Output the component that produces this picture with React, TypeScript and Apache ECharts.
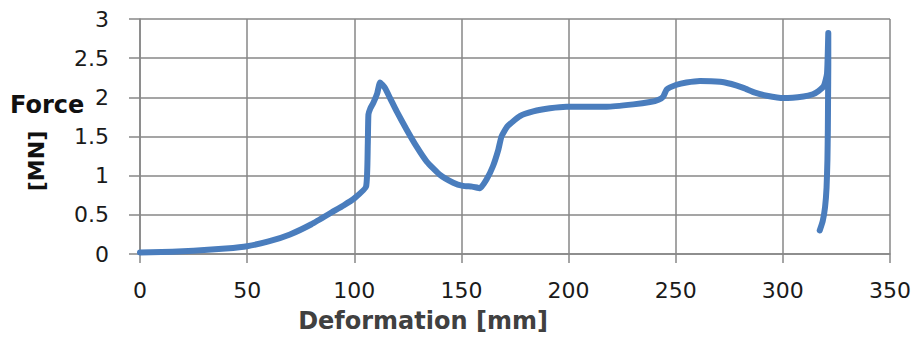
import React, { useEffect, useRef } from "react";
import * as echarts from "echarts";

const deformation: number[] = [
  0, 10, 20, 30, 40, 50, 60, 70, 80, 90, 95, 100, 105.5,
  106.3, 106.6, 107.5, 108.9, 110.7, 112, 114.3, 116.7, 119.8, 124.4, 129.1, 133.8, 140, 146.2, 150.7, 155, 158.7,
  161.7, 164.7, 167.2, 168.7, 171.5, 177.3, 183.5, 191.3, 199, 210, 217.8, 230.2, 238, 242, 244.2, 245.8, 250.4,
  255, 261.3, 270.7, 276, 281.6, 287, 292.5, 300.3, 309.6, 314, 316.6, 319.2, 320.6, 321.2,
  321.2, 321.1, 321, 320.8, 320.4, 319.7, 318.6, 317.2,
];
const force: number[] = [
  0.02, 0.025, 0.035, 0.05, 0.07, 0.1, 0.16, 0.25, 0.38, 0.54, 0.62, 0.71, 0.86,
  1.4, 1.78, 1.86, 1.93, 2.05, 2.19, 2.12, 1.99, 1.82, 1.59, 1.37, 1.18, 1.01, 0.91, 0.87, 0.86, 0.84,
  0.95, 1.12, 1.33, 1.5, 1.63, 1.76, 1.82, 1.86, 1.88, 1.88, 1.88, 1.91, 1.94, 1.97, 2.01, 2.1, 2.16,
  2.19, 2.21, 2.2, 2.17, 2.12, 2.06, 2.02, 1.99, 2.01, 2.04, 2.08, 2.15, 2.3, 2.82,
  2.4, 2.0, 1.6, 1.2, 0.85, 0.6, 0.42, 0.3,
];

const xTicks = { min: 0, max: 350, interval: 50 };
const yTicks = { min: 0, max: 3, interval: 0.5 };

const xTitle = "Deformation [mm]";
const yTitleTop = "Force";
const yTitleBottom = "[MN]";

export default function App() {
  const ref = useRef<HTMLDivElement>(null);

  useEffect(() => {
    if (!ref.current) return;
    const chart = echarts.init(ref.current, null, { renderer: "svg" });
    const gridColor = "#878787";
    const labelFont = "DejaVu Sans";
    chart.setOption({
      animation: false,
      backgroundColor: "#ffffff",
      grid: { left: 140, right: 27, top: 19, bottom: 83, containLabel: false },
      xAxis: {
        type: "value",
        min: xTicks.min,
        max: xTicks.max,
        interval: xTicks.interval,
        axisLine: { show: true, onZero: false, lineStyle: { color: gridColor, width: 1.5 } },
        axisTick: { show: true, length: 9, lineStyle: { color: gridColor, width: 1.5 } },
        splitLine: { show: true, lineStyle: { color: gridColor, width: 1.5 } },
        axisLabel: { color: "#1a1a1a", fontSize: 22, fontFamily: labelFont, margin: 25 },
      },
      yAxis: {
        type: "value",
        min: yTicks.min,
        max: yTicks.max,
        interval: yTicks.interval,
        axisLine: { show: true, lineStyle: { color: gridColor, width: 1.5 } },
        axisTick: { show: true, length: 11, lineStyle: { color: gridColor, width: 1.5 } },
        splitLine: { show: true, lineStyle: { color: gridColor, width: 1.5 } },
        axisLabel: { color: "#1a1a1a", fontSize: 22, fontFamily: labelFont, margin: 31 },
      },
      series: [
        {
          type: "line",
          data: deformation.map((d, i) => [d, force[i]]),
          showSymbol: false,
          symbol: "none",
          smooth: 0.15,
          lineStyle: { color: "#4a7dbd", width: 6, cap: "round", join: "round" },
        },
      ],
      graphic: [
        {
          type: "text",
          x: 423,
          y: 321,
          style: {
            text: xTitle,
            fontFamily: labelFont,
            fontWeight: "bold",
            fontSize: 24,
            fill: "#404040",
            align: "center",
            verticalAlign: "middle",
          },
        },
        {
          type: "text",
          x: 10,
          y: 105,
          style: {
            text: yTitleTop,
            fontFamily: labelFont,
            fontWeight: "bold",
            fontSize: 24,
            fill: "#111111",
            align: "left",
            verticalAlign: "middle",
          },
        },
        {
          type: "text",
          x: 36,
          y: 161,
          rotation: Math.PI / 2,
          style: {
            text: yTitleBottom,
            fontFamily: labelFont,
            fontWeight: "bold",
            fontSize: 22,
            fill: "#111111",
            align: "center",
            verticalAlign: "middle",
          },
        },
      ],
    });
    return () => chart.dispose();
  }, []);

  return (
    <div
      ref={ref}
      style={{ position: "fixed", left: 0, top: 0, width: 917, height: 337, background: "#fff" }}
    />
  );
}
